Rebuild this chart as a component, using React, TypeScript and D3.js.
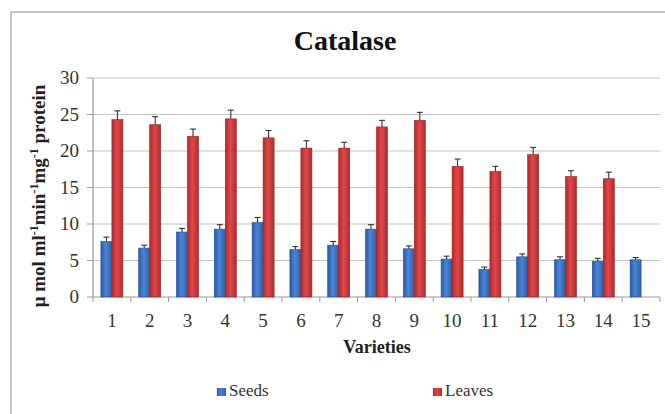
import React from "react";
import * as d3 from "d3";

const categories = ["1","2","3","4","5","6","7","8","9","10","11","12","13","14","15"];
const seeds = [7.6, 6.7, 8.9, 9.3, 10.2, 6.5, 7.1, 9.3, 6.6, 5.2, 3.8, 5.5, 5.1, 4.9, 5.1];
const seedsErr = [0.6, 0.4, 0.5, 0.6, 0.7, 0.4, 0.5, 0.6, 0.4, 0.4, 0.3, 0.4, 0.4, 0.4, 0.3];
const leaves: (number | null)[] = [24.3, 23.6, 22.0, 24.4, 21.8, 20.4, 20.4, 23.3, 24.2, 17.9, 17.2, 19.5, 16.5, 16.2, null];
const leavesErr = [1.2, 1.1, 1.0, 1.2, 1.0, 1.0, 0.8, 0.9, 1.1, 1.0, 0.7, 1.0, 0.8, 0.9, 0];
const yTicks = [0, 5, 10, 15, 20, 25, 30];
const seriesNames = ["Seeds", "Leaves"];

const W = 665, H = 414;
const left = 93, right = 660, top = 78, bottom = 297;
const FONT = "Times New Roman, Times, Liberation Serif, DejaVu Serif, serif";

export default function App() {
  const x = d3.scaleBand<string>().domain(categories).range([left, right]).paddingInner(0).paddingOuter(0);
  const y = d3.scaleLinear().domain([0, 30]).range([bottom, top]);
  const bw = 11;

  const errBar = (cx: number, v: number, e: number, key: string) => {
    if (!e) return null;
    const y0 = y(v), y1 = y(v + e);
    return (
      <g key={key} stroke="#222" strokeWidth={1}>
        <line x1={cx} x2={cx} y1={y0} y2={y1} />
        <line x1={cx - 3} x2={cx + 3} y1={y1} y2={y1} />
      </g>
    );
  };

  const T: React.CSSProperties = { fontFamily: FONT };

  return (
    <svg width={W} height={H} style={{ position: "absolute", left: 0, top: 0, background: "#fff", fontFamily: FONT }}>
      <defs>
        <linearGradient id="gBlue" x1="0" x2="1" y1="0" y2="0">
          <stop offset="0" stopColor="#2a5aa8" />
          <stop offset="0.45" stopColor="#4a86d6" />
          <stop offset="1" stopColor="#2d5ea8" />
        </linearGradient>
        <linearGradient id="gRed" x1="0" x2="1" y1="0" y2="0">
          <stop offset="0" stopColor="#b02a2a" />
          <stop offset="0.45" stopColor="#e04848" />
          <stop offset="1" stopColor="#b22c2c" />
        </linearGradient>
      </defs>
      <rect x={0} y={0} width={W} height={H} fill="#fff" />
      {/* frame */}
      <line x1={11} x2={W} y1={12} y2={12} stroke="#b0b0b0" strokeWidth={1.5} />
      <line x1={11} x2={11} y1={12} y2={H} stroke="#b0b0b0" strokeWidth={1.5} />

      {/* title */}
      <text x={345} y={50} textAnchor="middle" fontSize={28} fontWeight="bold" fill="#111" style={T}>Catalase</text>

      {/* gridlines */}
      {yTicks.map(t => (
        <line key={"g" + t} x1={left} x2={right} y1={y(t)} y2={y(t)} stroke={t === 0 ? "#999" : "#c4c4c4"} strokeWidth={1.2} />
      ))}
      {/* y axis */}
      <line x1={left} x2={left} y1={top} y2={bottom} stroke="#999" strokeWidth={1.2} />
      {yTicks.map(t => (
        <g key={"yt" + t}>
          <line x1={left - 6} x2={left} y1={y(t)} y2={y(t)} stroke="#999" />
          <text x={79} y={y(t) + 6} textAnchor="end" fontSize={19} fill="#333" style={T}>{t}</text>
        </g>
      ))}
      {/* x ticks */}
      {categories.concat(["end"]).map((c, i) => {
        const xx = left + i * x.bandwidth();
        return <line key={"xt" + i} x1={xx} x2={xx} y1={bottom} y2={bottom + 5} stroke="#999" />;
      })}
      {categories.map(c => (
        <text key={"xl" + c} x={(x(c) as number) + x.bandwidth() / 2} y={327} textAnchor="middle" fontSize={19} fill="#333" style={T}>{c}</text>
      ))}

      {/* bars */}
      {categories.map((c, i) => {
        const cx = (x(c) as number) + x.bandwidth() / 2;
        const lv = leaves[i];
        return (
          <g key={"b" + c}>
            <rect x={cx - bw} y={y(seeds[i])} width={bw} height={bottom - y(seeds[i])} fill="url(#gBlue)" stroke="#244f94" strokeWidth={0.6} />
            {errBar(cx - bw / 2, seeds[i], seedsErr[i], "es" + c)}
            {lv != null && (
              <>
                <rect x={cx} y={y(lv)} width={bw} height={bottom - y(lv)} fill="url(#gRed)" stroke="#9a2020" strokeWidth={0.6} />
                {errBar(cx + bw / 2, lv, leavesErr[i], "el" + c)}
              </>
            )}
          </g>
        );
      })}

      {/* axis titles */}
      <text x={377} y={353} textAnchor="middle" fontSize={18} fontWeight="bold" fill="#222" style={T}>Varieties</text>
      <text transform={`translate(45,196) rotate(-90)`} textAnchor="middle" fontSize={19} fontWeight="bold" fill="#222" style={T}>
        μ mol ml<tspan dy={-7} fontSize={12}>-1</tspan><tspan dy={7}>min</tspan><tspan dy={-7} fontSize={12}>-1</tspan><tspan dy={7}>mg</tspan><tspan dy={-7} fontSize={12}>-1</tspan><tspan dy={7}> protein</tspan>
      </text>

      {/* legend */}
      <rect x={217} y={388} width={9} height={8} fill="url(#gBlue)" />
      <text x={229} y={396} fontSize={17} fill="#333" style={T}>{seriesNames[0]}</text>
      <rect x={433} y={388} width={9} height={8} fill="url(#gRed)" />
      <text x={445} y={396} fontSize={17} fill="#333" style={T}>{seriesNames[1]}</text>
    </svg>
  );
}
